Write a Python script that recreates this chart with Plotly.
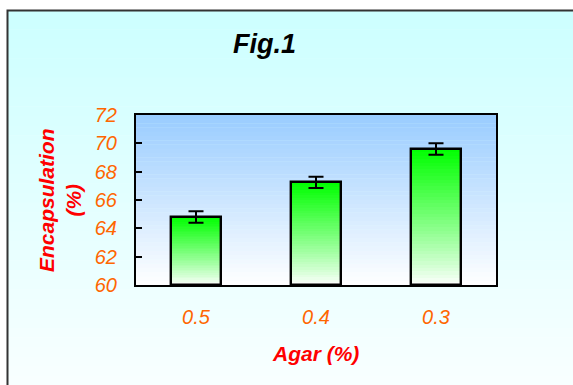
import plotly.graph_objects as go

# ---- data ----
categories = ["0.5", "0.4", "0.3"]
encapsulation = [64.8, 67.25, 69.6]
errors = [0.4, 0.4, 0.4]
y_ticks = [60, 62, 64, 66, 68, 70, 72]
base_value = 60

W, H = 573, 385
# plot area in page pixels: x 136..496, y 115..285
L, T = 136, 115
R = W - 496
B = H - 285
PW, PH = W - L - R, H - T - B

def px_x(px):
    return (px - L) / PW

def px_y(py):
    return (H - B - py) / PH

def mix(c1, c2, t):
    return "rgb(%d,%d,%d)" % tuple(round(a + (b - a) * t) for a, b in zip(c1, c2))

fig = go.Figure()

# gradient bars: overlay of progressively shorter, lighter bars
N = 40
green = (0, 255, 0)
white = (255, 255, 255)
for k in range(N):
    frac = 1 - k / N
    mid = 1 - (k + 0.5) / N
    fig.add_trace(go.Bar(
        x=categories,
        y=[(v - base_value) * frac for v in encapsulation],
        base=base_value,
        width=0.41,
        marker=dict(color=mix(white, green, mid ** 0.9), line=dict(width=0)),
        hoverinfo="skip", showlegend=False,
    ))

# outline bar with error bars
fig.add_trace(go.Bar(
    x=categories,
    y=[v - base_value for v in encapsulation],
    base=base_value,
    width=0.41,
    marker=dict(color="rgba(0,0,0,0)", line=dict(color="black", width=2.4)),
    error_y=dict(type="data", array=errors, visible=True, color="black",
                 thickness=2, width=7.5),
    hoverinfo="skip",
    showlegend=False,
))

shapes = []
# outer background gradient
NS = 40
y_top, y_bot = 10, H + 10
for i in range(NS):
    a = y_top + (y_bot - y_top) * i / NS
    b = y_top + (y_bot - y_top) * (i + 1) / NS
    shapes.append(dict(type="rect", xref="paper", yref="paper",
                       x0=px_x(7), x1=px_x(W + 20), y0=px_y(a), y1=px_y(b + 0.5),
                       fillcolor=mix((204, 255, 255), (250, 255, 255), (i + 0.5) / NS),
                       line=dict(width=0), layer="below"))
# outer frame
shapes.append(dict(type="rect", xref="paper", yref="paper",
                   x0=px_x(7.5), x1=px_x(W + 20), y0=px_y(10.5), y1=px_y(H + 20),
                   fillcolor="rgba(0,0,0,0)", line=dict(color="#333333", width=2),
                   layer="below"))
# plot-area gradient
NP = 40
for i in range(NP):
    shapes.append(dict(type="rect", xref="x domain", yref="y domain",
                       x0=0, x1=1, y0=1 - (i + 1) / NP, y1=1 - i / NP + 0.002,
                       fillcolor=mix((153, 204, 255), (255, 255, 255), (i + 0.5) / NP),
                       line=dict(width=0), layer="below"))

font_family = "Liberation Sans, Arial, sans-serif"

fig.update_layout(
    width=W, height=H,
    margin=dict(l=L, r=R, t=T, b=B, pad=0),
    paper_bgcolor="white",
    plot_bgcolor="rgba(0,0,0,0)",
    barmode="overlay",
    bargap=0,
    shapes=shapes,
    showlegend=False,
    font=dict(family=font_family),
    xaxis=dict(
        type="category", categoryorder="array", categoryarray=categories,
        showline=True, linecolor="black", linewidth=2, mirror=True,
        ticks="", showgrid=False, zeroline=False,
        tickfont=dict(family=font_family, size=20, color="#FF6600", style="italic"),
        ticklabelstandoff=13,
    ),
    yaxis=dict(
        range=[60, 72], tickvals=y_ticks,
        showline=True, linecolor="black", linewidth=2, mirror=True,
        ticks="inside", ticklen=6, tickwidth=1.5, tickcolor="black",
        showgrid=False, zeroline=False,
        tickfont=dict(family=font_family, size=20, color="#FF6600", style="italic"),
        ticklabelstandoff=13,
    ),
    annotations=[
        dict(text="<b><i>Fig.1</i></b>", xref="paper", yref="paper",
             x=px_x(264), y=px_y(44), xanchor="center", yanchor="middle",
             showarrow=False, font=dict(family=font_family, size=27, color="black")),
        dict(text="<b><i>Encapsulation<br>(%)</i></b>", xref="paper", yref="paper",
             x=px_x(60), y=px_y(200), xanchor="center", yanchor="middle",
             textangle=-90, showarrow=False,
             font=dict(family=font_family, size=21, color="#FF0000")),
        dict(text="<b><i>Agar (%)</i></b>", xref="paper", yref="paper",
             x=px_x(315), y=px_y(353), xanchor="center", yanchor="middle",
             showarrow=False, font=dict(family=font_family, size=21, color="#FF0000")),
    ],
)

fig.write_html("out.html", config={"displayModeBar": False},
               post_script="document.body.style.margin='0';")
